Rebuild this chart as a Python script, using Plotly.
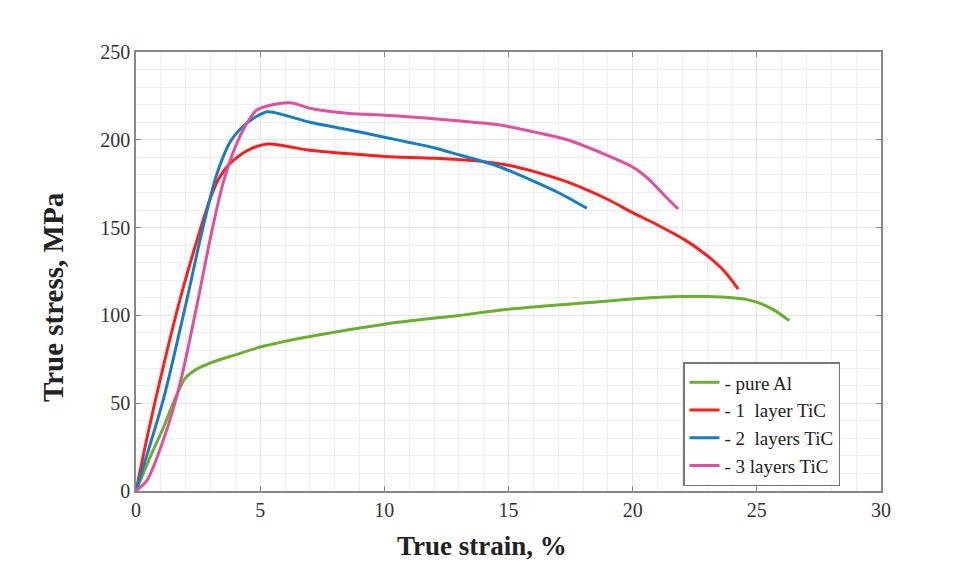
import plotly.graph_objects as go

# Data
al_x = [0, 0.5, 1.1, 1.5, 1.97, 2.4, 3, 4, 5, 7, 10, 13, 15, 18, 20.7, 22, 23, 24, 24.6, 25.1, 25.7, 26.3]
al_y = [0, 17, 36, 50, 64, 69, 73, 77.5, 82, 88, 95, 100, 103.5, 107, 110, 110.7, 110.7, 110, 109, 107, 103, 97]

l1_x = [0, 0.5, 1.1, 1.77, 2.46, 3.0, 3.3, 3.6, 3.9, 4.5, 5.27, 6, 7, 8.6, 10, 12, 13.7, 15, 16, 17.36, 19, 20, 21, 22.1, 23, 23.7, 24.25]
l1_y = [0, 34, 71, 109, 143, 167, 177, 183.5, 188, 194, 197.6, 196.5, 194, 192, 190.5, 189.5, 188, 185.5, 182, 176, 166, 158.5, 151.5, 143, 134, 125, 115]

l2_x = [0, 0.3, 1.1, 2.05, 2.58, 3.2, 3.5, 3.8, 4.19, 4.7, 5.3, 6, 7, 8.6, 10, 11, 12, 13, 14, 14.66, 16, 17, 18.16]
l2_y = [0, 14, 52, 109, 143, 178, 190, 199, 206, 212, 216, 214, 210, 205.6, 201.5, 198.5, 195.5, 191.5, 187.5, 184.5, 176.5, 170, 161]

l3_x = [0, 0.44, 1.1, 1.77, 2.5, 2.98, 3.5, 4.0, 4.47, 4.87, 5.5, 6.28, 7, 8.6, 10, 12, 14.66, 16, 17.36, 19, 20, 20.4, 20.8, 21.3, 21.83]
l3_y = [0, 6, 29, 61, 109, 143, 175, 196, 209.6, 217, 220, 221, 218, 215, 214, 212, 208.4, 204.5, 200, 191, 184.5, 180.5, 175.5, 168, 160.6]

names = ["- pure Al", "- 1  layer TiC", "- 2  layers TiC", "- 3 layers TiC"]
colors = ["#6aae32", "#ff1e1e", "#1a7dbf", "#e0509e"]

fig = go.Figure()
for xs, ys, nm, c in zip([al_x, l1_x, l2_x, l3_x], [al_y, l1_y, l2_y, l3_y], names, colors):
    fig.add_trace(go.Scatter(x=xs, y=ys, mode="lines", name=nm,
                             line=dict(color=c, width=3, shape="spline", smoothing=0.8)))

serif = "Liberation Serif, Times New Roman, serif"
PW, PH = 745, 439
fig.update_layout(
    width=957, height=562,
    margin=dict(l=128, r=84, t=44, b=79),
    paper_bgcolor="white", plot_bgcolor="white",
    font=dict(family=serif, color="#333333"),
    showlegend=True,
    legend=dict(x=(683 - 136) / PW, y=(491 - 362) / PH, xanchor="left", yanchor="top",
                bgcolor="white", bordercolor="#777777", borderwidth=1.5,
                font=dict(family=serif, size=19, color="#222222"),
                itemwidth=30, tracegroupgap=0),
)
fig.update_xaxes(range=[0, 30], dtick=5, tick0=0,
                 showline=True, linecolor="#888888", linewidth=1.5, mirror="ticks",
                 ticks="inside", ticklen=5, tickcolor="#888888",
                 showgrid=True, gridcolor="#e6e6e6", gridwidth=1,
                 minor=dict(dtick=1, showgrid=True, gridcolor="#eeeeee", gridwidth=1),
                 zeroline=False,
                 tickfont=dict(family=serif, size=20, color="#333333"))
fig.update_yaxes(range=[0, 250], dtick=50, tick0=0,
                 showline=True, linecolor="#888888", linewidth=1.5, mirror="ticks",
                 ticks="inside", ticklen=5, tickcolor="#888888",
                 showgrid=True, gridcolor="#e6e6e6", gridwidth=1,
                 minor=dict(dtick=10, showgrid=True, gridcolor="#eeeeee", gridwidth=1),
                 zeroline=False,
                 tickfont=dict(family=serif, size=20, color="#333333"))

fig.add_annotation(text="<b>True strain, %</b>", xref="paper", yref="paper",
                   x=(482 - 136) / PW, y=-(546 - 491) / PH, xanchor="center", yanchor="middle",
                   showarrow=False, font=dict(family=serif, size=27, color="#222222"))
fig.add_annotation(text="<b>True stress, MPa</b>", xref="paper", yref="paper",
                   x=-(136 - 53) / PW, y=(491 - 297) / PH, xanchor="center", yanchor="middle",
                   textangle=-90, showarrow=False, font=dict(family=serif, size=29, color="#222222"))

fig.write_html("out.html")
